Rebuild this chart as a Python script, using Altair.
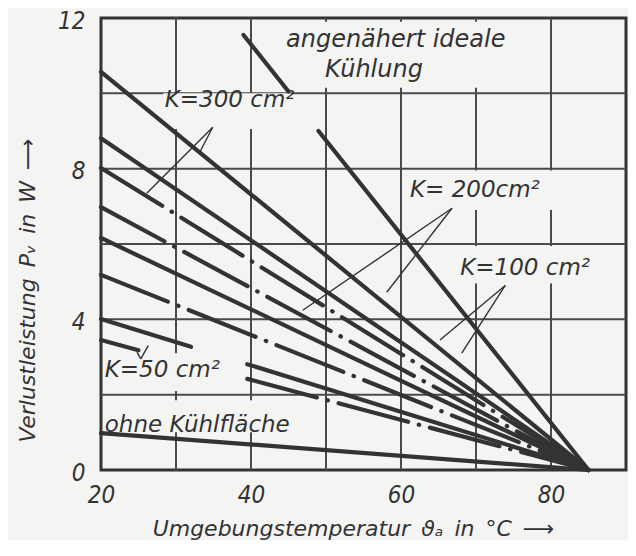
import altair as alt
import pandas as pd

BG = "#f4f4f2"
INK = "#333333"
FONT = "DejaVu Sans Condensed, DejaVu Sans"
FONT_W = "DejaVu Sans"
SP = "\u2002"

# axis labels and grid positions
x_label_values = [20, 40, 60, 80]
y_label_values = [0, 4, 8, 12]
x_grid = [30, 40, 50, 60, 70, 80]
y_grid = [2, 4, 6, 8, 10]

# curve segments (start / end points)
seg_curve = ["ideal", "ideal", "K300_s", "K200_s", "K300_d", "K200_d", "K100_s",
             "K100_d", "K50_s", "K50_s", "K50_d", "K50_d", "ohne"]
seg_style = ["solid", "solid", "solid", "solid", "dashdot", "dashdot", "solid",
             "dashdot", "solid", "solid", "solid", "dashdot", "solid"]
seg_x_start = [39, 49, 20, 20, 20, 20, 20, 20, 20, 39.5, 20, 39.5, 20]
seg_p_start = [11.55, 9.0, 10.57, 8.81, 8.02, 6.98, 6.16, 5.18, 4.01, 2.81, 3.45, 2.42, 0.98]
seg_x_end = [45, 85, 85, 85, 85, 85, 85, 85, 32, 85, 25, 85, 85]
seg_p_end = [10.05, 0, 0, 0, 0, 0, 0, 0, 3.27, 0, 3.18, 0, 0]

# pointer lines from labels to curves
ptr_x_from = [34.9, 34.9, 66.8, 66.8, 73.9, 73.9, 25.3, 25.3]
ptr_p_from = [9.1, 9.1, 6.95, 6.95, 4.9, 4.9, 2.95, 2.95]
ptr_x_to = [26.1, 33.2, 46.9, 58.1, 65.2, 68.1, 24.8, 26.3]
ptr_p_to = [7.35, 8.45, 4.24, 4.72, 3.45, 3.1, 3.13, 3.3]

# annotation labels
lab_c_text = ["angenähert ideale", "Kühlung"]
lab_c_x = [59.3, 56.4]
lab_c_p = [11.41, 10.62]
lab_l_text = ["K=300 cm²", "K= 200cm²", "K=100 cm²", "K=50 cm²", "ohne Kühlfläche"]
lab_l_x = [28.5, 61.2, 67.9, 20.5, 20.5]
lab_l_p = [9.82, 7.43, 5.36, 2.65, 1.19]

# grid gaps behind the labels
mask_x1 = [41, 28.3, 60.5, 67.5, 20.3, 20.3]
mask_x2 = [79.5, 45.3, 81.2, 85.8, 38.2, 49.2]
mask_p1 = [10.15, 9.05, 6.9, 4.95, 2.1, 1.0]
mask_p2 = [11.9, 10.0, 7.95, 5.95, 3.1, 1.85]

rows = []
for i in range(len(seg_curve)):
    rows.append({"seg": i, "curve": seg_curve[i], "style": seg_style[i], "o": 0,
                 "x": seg_x_start[i], "p": seg_p_start[i]})
    rows.append({"seg": i, "curve": seg_curve[i], "style": seg_style[i], "o": 1,
                 "x": seg_x_end[i], "p": seg_p_end[i]})
df_lines = pd.DataFrame(rows)
df_ptr = pd.DataFrame({"x": ptr_x_from, "p": ptr_p_from, "x2": ptr_x_to, "p2": ptr_p_to})
df_lc = pd.DataFrame({"t": lab_c_text, "x": lab_c_x, "p": lab_c_p})
df_ll = pd.DataFrame({"t": lab_l_text, "x": lab_l_x, "p": lab_l_p})
df_mask = pd.DataFrame({"x": mask_x1, "x2": mask_x2, "p": mask_p1, "p2": mask_p2})
df_gx = pd.DataFrame({"x": x_grid})
df_gy = pd.DataFrame({"p": y_grid})

xs = alt.Scale(domain=[20, 90], nice=False, zero=False)
ys = alt.Scale(domain=[0, 12], nice=False, zero=False)

x_title = SP.join(["Umgebungstemperatur", "ϑₐ", "in", "°C", "⟶"])
y_title = SP.join(["Verlustleistung", "Pᵥ", "in", "W", "⟶"])

x_axis = alt.Axis(values=x_label_values, grid=False, ticks=False, domain=False,
                  labelFlush=False, labelPadding=13,
                  title=x_title,
                  titleX=252, titleY=58, titleAlign="center", titleBaseline="middle")
y_axis = alt.Axis(values=y_label_values, grid=False, ticks=False, domain=False,
                  labelPadding=16, labelOffset=3,
                  title=y_title,
                  titleAngle=270, titleX=-74, titleY=272, titleAlign="center",
                  titleBaseline="middle")

X = lambda f="x": alt.X(f"{f}:Q", scale=xs, axis=x_axis)
Y = lambda f="p": alt.Y(f"{f}:Q", scale=ys, axis=y_axis)

grid_v = alt.Chart(df_gx).mark_rule(color="#4a4a4a", strokeWidth=2).encode(x=X())
grid_h = alt.Chart(df_gy).mark_rule(color="#4a4a4a", strokeWidth=2).encode(y=Y())

masks = alt.Chart(df_mask).mark_rect(fill=BG).encode(
    x=X(), x2="x2:Q", y=Y(), y2="p2:Q")

solid = alt.Chart(df_lines[df_lines["style"] == "solid"]).mark_line(
    color=INK, strokeWidth=4.2, strokeCap="round").encode(
    x=X(), y=Y(), detail="seg:N", order="o:Q")
dashdot = alt.Chart(df_lines[df_lines["style"] == "dashdot"]).mark_line(
    color=INK, strokeWidth=4.2, strokeCap="round", strokeDash=[72, 11, 0.5, 11]).encode(
    x=X(), y=Y(), detail="seg:N", order="o:Q")

pointers = alt.Chart(df_ptr).mark_rule(color=INK, strokeWidth=1.4).encode(
    x=X(), y=Y(), x2="x2:Q", y2="p2:Q")

text_c = alt.Chart(df_lc).mark_text(
    align="center", baseline="middle", font=FONT_W, fontSize=24,
    fontStyle="italic", color=INK).encode(x=X(), y=Y(), text="t:N")
text_l = alt.Chart(df_ll).mark_text(
    align="left", baseline="middle", font=FONT_W, fontSize=23,
    fontStyle="italic", color=INK).encode(x=X(), y=Y(), text="t:N")

chart = alt.layer(grid_v, grid_h, masks, solid, dashdot, pointers, text_c, text_l).properties(
    width=525, height=452,
    padding={"left": 93, "top": 10, "right": 2, "bottom": 70},
    autosize=alt.AutoSizeParams(type="none"),
    background=BG,
).configure_view(
    stroke=INK, strokeWidth=3
).configure_axis(
    labelFont=FONT, labelFontSize=24, labelFontStyle="italic", labelColor=INK,
    titleFont=FONT_W, titleFontSize=22, titleFontStyle="italic", titleFontWeight="normal",
    titleColor=INK,
)

chart.save("out.html", embed_options={"renderer": "svg", "actions": False})
